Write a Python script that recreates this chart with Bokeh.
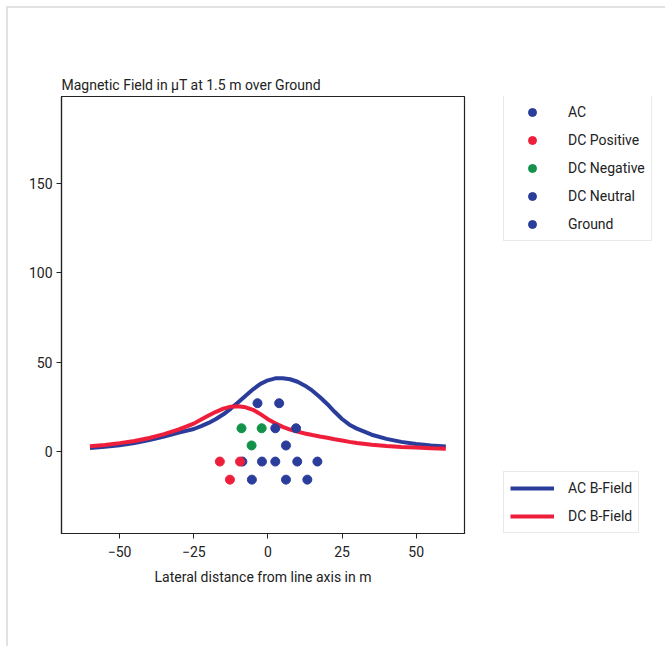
from bokeh.plotting import figure
from bokeh.layouts import row, column
from bokeh.models import Legend, LegendItem, FixedTicker, Range1d, Spacer, Div
from bokeh.embed import file_html
from bokeh.resources import INLINE

# Conductor positions (cross-section of the line)
ac_x = [2.5, 9.5, 6.1, -8.6, 2.5, 9.9, 16.7, 6.1, 13.3]
ac_y = [13.0, 13.0, 3.4, -5.6, -5.6, -5.6, -5.6, -15.7, -15.7]
dc_pos_x = [-16.2, -9.4, -12.8]
dc_pos_y = [-5.6, -5.6, -15.7]
dc_neg_x = [-8.9, -2.1, -5.5]
dc_neg_y = [13.0, 13.0, 3.4]
dc_neu_x = [-2.0, -5.4]
dc_neu_y = [-5.6, -15.7]
ground_x = [-3.5, 3.8]
ground_y = [27.0, 27.0]

# Lateral profile of the magnetic flux density at 1.5 m
dist = [-60, -55, -50, -45, -40, -35, -30, -25, -22.5, -20, -17.5, -15, -12.5,
        -10, -7.5, -5, -2.5, 0, 2.5, 5, 7.5, 10, 12.5, 15, 17.5, 20, 22.5, 25,
        27.5, 30, 35, 40, 45, 50, 55, 60]
ac_field = [2.0, 2.7, 3.5, 4.8, 6.4, 8.4, 10.6, 12.6, 14.2, 16.0, 18.2, 20.8, 24.0,
            27.5, 31.2, 34.8, 37.8, 39.8, 40.9, 41.0, 40.4, 39.0, 36.8, 34.0, 30.5,
            26.6, 22.2, 18.2, 15.0, 12.8, 9.4, 7.1, 5.4, 4.2, 3.4, 2.8]
dc_field = [2.9, 3.7, 4.7, 5.9, 7.6, 9.7, 12.4, 15.6, 17.9, 20.1, 22.2, 24.0, 25.1,
            25.3, 24.7, 23.3, 20.9, 18.1, 15.8, 13.8, 12.3, 11.1, 10.1, 9.2, 8.4,
            7.7, 6.9, 6.2, 5.4, 4.8, 3.8, 3.1, 2.6, 2.2, 1.8, 1.5]

x_ticks = [-50, -25, 0, 25, 50]
y_ticks = [0, 50, 100, 150]

BLUE = "#2b3d9b"
RED = "#ef1f3c"
GREEN = "#13924a"
INK = "#222222"
RULE = "#e2e2e2"
FONT = "Roboto"
SIZE = "14px"

PAGE_W, PAGE_H = 665, 646
GAP, EDGE = 6, 2          # outer gap and width of the page rule lines
OFF = GAP + EDGE
H = PAGE_H - OFF
MAIN_W = 480 - OFF
LEG_W = PAGE_W - 480
FRAME_LEFT, FRAME_RIGHT = 61 - OFF, 464 - OFF
FRAME_TOP, FRAME_BOTTOM = 96 - OFF, 533 - OFF


def draw_series(fig):
    """Draw the field curves and conductor markers onto a figure."""
    r = {}
    r["acf"] = fig.line(dist, ac_field, line_color=BLUE, line_width=4)
    r["dcf"] = fig.line(dist, dc_field, line_color=RED, line_width=4)
    r["ac"] = fig.scatter(ac_x, ac_y, size=9, color=BLUE)
    r["pos"] = fig.scatter(dc_pos_x, dc_pos_y, size=9, color=RED)
    r["neg"] = fig.scatter(dc_neg_x, dc_neg_y, size=9, color=GREEN)
    r["neu"] = fig.scatter(dc_neu_x, dc_neu_y, size=9, color=BLUE)
    r["gnd"] = fig.scatter(ground_x, ground_y, size=9, color=BLUE)
    return r


# Main plot
p = figure(width=MAIN_W, height=H,
           x_range=Range1d(-69.6, 66.3), y_range=Range1d(-45.8, 198.4),
           output_backend="svg", toolbar_location=None,
           min_border_left=FRAME_LEFT, min_border_right=MAIN_W - FRAME_RIGHT,
           min_border_top=FRAME_TOP, min_border_bottom=H - FRAME_BOTTOM,
           title="Magnetic Field in µT at 1.5 m over Ground")

p.background_fill_color = "white"
p.border_fill_color = "white"
p.outline_line_color = INK
p.outline_line_width = 1.2
p.grid.visible = False

p.title.text_font = FONT
p.title.text_font_size = SIZE
p.title.text_font_style = "normal"
p.title.text_color = INK
p.title.align = "left"
p.title.standoff = 7

for ax in (p.xaxis[0], p.yaxis[0]):
    ax.axis_line_color = INK
    ax.axis_line_width = 1.2
    ax.major_tick_line_color = INK
    ax.major_tick_out = 5
    ax.major_tick_in = 0
    ax.minor_tick_line_color = None
    ax.major_label_text_font = FONT
    ax.major_label_text_font_size = SIZE
    ax.major_label_text_color = INK

p.xaxis.major_label_standoff = 7
p.yaxis.major_label_standoff = 4
p.xaxis.ticker = FixedTicker(ticks=x_ticks)
p.yaxis.ticker = FixedTicker(ticks=y_ticks)
p.xaxis.axis_label = "Lateral distance from line axis in m"
p.xaxis.axis_label_text_font = FONT
p.xaxis.axis_label_text_font_size = SIZE
p.xaxis.axis_label_text_font_style = "normal"
p.xaxis.axis_label_text_color = INK
p.xaxis.axis_label_standoff = 9

draw_series(p)

# Legend panel: same series, ranged away so only the legends show.
# Its frame lines up with the main frame in the row layout.
lp = figure(width=LEG_W, height=H,
            x_range=Range1d(1000, 1001), y_range=Range1d(1000, 1001),
            output_backend="svg", toolbar_location=None,
            min_border=0, x_axis_type=None, y_axis_type=None)
lp.outline_line_color = None
lp.grid.visible = False
lp.background_fill_color = "white"
lp.border_fill_color = "white"
lr = draw_series(lp)


def style_legend(lg):
    lg.padding = 6
    lg.spacing = 8
    lg.margin = 0
    lg.glyph_width = 44
    lg.glyph_height = 20
    lg.label_standoff = 14
    lg.label_text_font = FONT
    lg.label_text_font_size = SIZE
    lg.label_text_color = INK
    lg.border_line_color = "#d4d4d4"
    lg.border_line_width = 1
    lg.background_fill_color = "white"
    lg.background_fill_alpha = 1.0


conductors = Legend(items=[
    LegendItem(label="AC", renderers=[lr["ac"]]),
    LegendItem(label="DC Positive", renderers=[lr["pos"]]),
    LegendItem(label="DC Negative", renderers=[lr["neg"]]),
    LegendItem(label="DC Neutral", renderers=[lr["neu"]]),
    LegendItem(label="Ground", renderers=[lr["gnd"]]),
], location=(503 - 480, 533 - 241))
style_legend(conductors)

fields = Legend(items=[
    LegendItem(label="AC B-Field", renderers=[lr["acf"]]),
    LegendItem(label="DC B-Field", renderers=[lr["dcf"]]),
], location=(503 - 480, 0))
style_legend(fields)

lp.add_layout(conductors)
lp.add_layout(fields)

# Thin page rules along the top and left edges
left_rule = Div(text="", width=EDGE, height=PAGE_H - GAP, margin=0,
                styles={"background-color": RULE})
top_rule = Div(text="", width=PAGE_W - OFF, height=EDGE, margin=0,
               styles={"background-color": RULE})

charts = column(top_rule, row(p, lp, spacing=0), spacing=0)
layout = column(Spacer(height=GAP),
                row(Spacer(width=GAP), left_rule, charts, spacing=0),
                spacing=0)
open("out.html", "w").write(file_html(layout, INLINE))
